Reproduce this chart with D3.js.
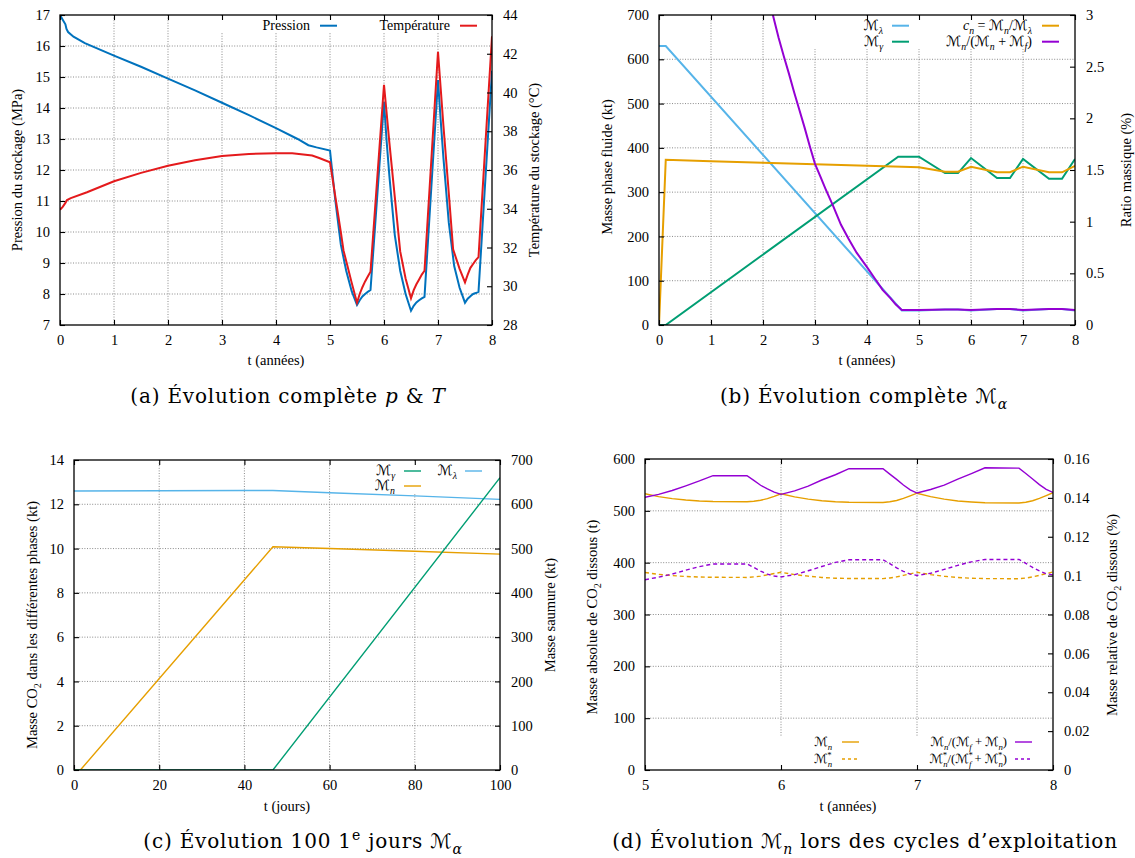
<!DOCTYPE html>
<html><head><meta charset="utf-8">
<script src="https://cdn.jsdelivr.net/npm/d3@7"></script>
<style>
body{margin:0;background:#fff;}
svg{display:block;}
</style></head>
<body>
<svg id="c" width="1135" height="858"></svg>
<script>
// ---------------- DATA ----------------
// Panel (a)
const yearTicks = [0,1,2,3,4,5,6,7,8];
const pressTicks = [7,8,9,10,11,12,13,14,15,16,17];
const tempTicks = [28,30,32,34,36,38,40,42,44];
const tPress = [0,0.05,0.1,0.12,0.15,0.25,0.46,1,1.5,2,2.5,3,3.5,4,4.4,4.6,4.75,5.0,5.05,5.1,5.2,5.3,5.4,5.5,5.55,5.6,5.65,5.7,5.75,6.0,6.05,6.1,6.2,6.3,6.4,6.5,6.55,6.6,6.65,6.7,6.75,7.0,7.05,7.1,7.2,7.3,7.4,7.5,7.55,7.6,7.65,7.7,7.75,8.0];
const pressure = [17.0,16.85,16.7,16.55,16.45,16.3,16.09,15.69,15.33,14.95,14.57,14.17,13.77,13.35,13.0,12.8,12.73,12.63,11.8,11.0,9.6,8.75,8.1,7.65,7.8,7.92,8.0,8.07,8.13,14.2,12.9,11.8,9.9,8.75,8.0,7.46,7.62,7.73,7.8,7.86,7.91,14.9,13.6,12.4,10.3,8.9,8.2,7.72,7.85,7.93,8.0,8.03,8.07,15.2];
const tTemp = [0,0.05,0.1,0.13,0.2,0.5,1,1.5,2,2.5,3,3.5,4,4.3,4.67,4.8,5.0,5.05,5.1,5.2,5.25,5.3,5.4,5.5,5.55,5.6,5.65,5.7,5.75,6.0,6.05,6.1,6.2,6.3,6.4,6.5,6.55,6.6,6.65,6.7,6.75,7.0,7.05,7.1,7.2,7.28,7.4,7.5,7.55,7.6,7.65,7.7,7.75,8.0];
const temperature = [33.95,34.1,34.3,34.45,34.55,34.85,35.42,35.85,36.22,36.5,36.72,36.83,36.86,36.86,36.75,36.62,36.4,35.5,34.6,32.8,31.85,31.3,30.2,29.15,29.6,29.95,30.25,30.5,30.75,40.4,38.9,37.4,34.6,31.8,30.4,29.38,29.8,30.1,30.35,30.6,30.8,42.1,40.2,38.3,34.8,31.9,30.9,30.2,30.6,30.95,31.15,31.35,31.5,42.9];

// Panel (b)
const fluidTicks = [0,100,200,300,400,500,600,700];
const ratioTicks = [0,0.5,1,1.5,2,2.5,3];
const tLambdaB = [0,0.13,4.67,5.0,5.5,5.75,6.0,6.5,6.75,7.0,7.5,7.75,8.0];
const massLambdaB = [630,630,33,33,35,35,33,36,36,33,36,36,33];
const tGammaB = [0,0.13,4.6,5.0,5.5,5.75,6.0,6.5,6.75,7.0,7.5,7.75,8.0];
const massGammaB = [0,0,380,380,343,343,377,332,332,375,330,330,375];
const tCnB = [0,0.13,1,2,3,4,4.67,5.0,5.5,5.75,6.0,6.5,6.75,7.0,7.5,7.75,8.0];
const cnB = [0,1.6,1.585,1.571,1.556,1.542,1.532,1.526,1.484,1.484,1.532,1.478,1.478,1.532,1.478,1.478,1.54];
const tRatioB = [2.19,2.3,2.4,2.5,2.6,2.7,2.8,2.9,3.0,3.1,3.2,3.35,3.5,3.65,3.8,4.0,4.15,4.3,4.45,4.55,4.67,5.0,5.5,5.75,6.0,6.5,6.75,7.0,7.5,7.75,8.0];
const ratioB = [3.0,2.78,2.6,2.43,2.25,2.08,1.91,1.73,1.56,1.44,1.32,1.15,0.97,0.83,0.7,0.56,0.45,0.34,0.26,0.2,0.145,0.145,0.15,0.15,0.145,0.155,0.155,0.145,0.155,0.155,0.145];

// Panel (c)
const dayTicks = [0,20,40,60,80,100];
const co2Ticks = [0,2,4,6,8,10,12,14];
const brineTicks = [0,100,200,300,400,500,600,700];
const tLambdaC = [0,20,40,46.7,60,80,100];
const brineC = [630,630.5,631,631,626,619,611];
const tNC = [0,1.5,46.7,60,80,100];
const mnC = [0,0,10.08,10.0,9.88,9.75];
const tGammaC = [0,46.7,100];
const mgC = [0,0,13.2];

// Panel (d)
const yearTicksD = [5,6,7,8];
const absTicks = [0,100,200,300,400,500,600];
const relTicks = [0,0.02,0.04,0.06,0.08,0.1,0.12,0.14,0.16];
const tD = [5.0,5.1,5.2,5.3,5.4,5.5,5.75,5.8,5.85,5.9,5.95,6.0,6.1,6.2,6.3,6.4,6.5,6.75,6.8,6.85,6.9,6.95,7.0,7.1,7.2,7.3,7.4,7.5,7.75,7.8,7.85,7.9,7.95,8.0];
const mnD = [533,527.5,523.5,520.8,519,518,517.5,518.5,520.5,523.5,528,533,527,522.5,519.5,517.5,516.5,516,517.5,520,524,529,534,527.5,522.5,519,517,515.5,515,516.5,519.5,524,529.5,535];
const ratioD = [0.1403,0.1418,0.1438,0.1462,0.1487,0.1514,0.1514,0.1490,0.1465,0.1446,0.1430,0.1418,0.1436,0.1460,0.1492,0.1519,0.155,0.155,0.1522,0.1495,0.1466,0.1441,0.1425,0.1443,0.1466,0.1496,0.1525,0.1555,0.1553,0.1525,0.1497,0.1468,0.1444,0.1428];
const mnStarD = [381,377.5,375,373.3,372.3,371.8,371.5,372.5,374,376.5,379,381.5,377,374,371.5,370,369.5,369.3,370.5,372.5,375.5,378.5,381.5,377,373.8,371.5,370,369.3,369,370.3,372.5,375.5,379,382];
const ratioStarD = [0.0979,0.0992,0.1008,0.1028,0.1046,0.1060,0.1060,0.1042,0.1023,0.1008,0.0998,0.0993,0.1005,0.1025,0.1047,0.1068,0.1082,0.1082,0.1062,0.1040,0.1022,0.1008,0.1001,0.1012,0.1032,0.1053,0.1071,0.1083,0.1083,0.1063,0.1042,0.1024,0.1010,0.1004];

// ---------------- DRAWING ----------------
const FONT = "'Liberation Serif','Times New Roman',serif";
const CFONT = "'DejaVu Serif',serif";
const MFONT = "'DejaVu Serif','DejaVu Sans',serif";
const svg = d3.select('#c');
const C = {blue:'#0072bd', red:'#e41a1c', lblue:'#56b4e9', green:'#009e73', orange:'#e69f00', purple:'#9400d3'};

function rich(text, segs, fs){
  let cur = 0;
  segs.forEach(s=>{
    const target = s.sub ? fs*0.28 : (s.sup ? -fs*0.38 : 0);
    const ts = text.append('tspan').text(s.t);
    if (target !== cur) ts.attr('dy', target - cur);
    cur = target;
    if (s.sub || s.sup) ts.attr('font-size', fs*0.7);
    if (s.it) ts.attr('font-style','italic');
    if (s.m) ts.attr('font-family', MFONT);
    if (s.dx) ts.attr('dx', s.dx);
  });
  return text;
}
const P = s => typeof s === 'string' ? {t:s} : s;
function txt(g, x, y, segs, opt={}){
  const fs = opt.fs || 13;
  const t = g.append('text').attr('x',x).attr('y',y)
    .attr('font-family', opt.font || FONT).attr('font-size', fs)
    .attr('text-anchor', opt.anchor || 'middle').attr('fill','#000');
  if (opt.ls) t.attr('letter-spacing', opt.ls);
  if (opt.rot) t.attr('transform', `rotate(${opt.rot},${x},${y})`);
  rich(t, segs.map(P), fs);
  return t;
}

function panel(cfg){
  const g = svg.append('g');
  const {L,R,T,B} = cfg;
  const x = d3.scaleLinear().domain(cfg.xDom).range([L,R]);
  const y = d3.scaleLinear().domain(cfg.yDom).range([B,T]);
  const y2 = d3.scaleLinear().domain(cfg.y2Dom).range([B,T]);
  const id = 'clip'+cfg.name;
  svg.append('clipPath').attr('id',id).append('rect').attr('x',L).attr('y',T).attr('width',R-L).attr('height',B-T);
  const grid = g.append('g').attr('stroke','#8a8a8a').attr('stroke-width',1).attr('stroke-dasharray','1,1.6');
  cfg.xTicks.filter(v=>v!==cfg.xDom[0] && v!==cfg.xDom[1]).forEach(v=>{
    grid.append('line').attr('x1',x(v)).attr('x2',x(v)).attr('y1',T).attr('y2',B);
  });
  cfg.yTicks.filter(v=>v!==cfg.yDom[0] && v!==cfg.yDom[1]).forEach(v=>{
    grid.append('line').attr('x1',L).attr('x2',R).attr('y1',y(v)).attr('y2',y(v));
  });
  if (cfg.keyBox) {
    const k = cfg.keyBox;
    g.append('rect').attr('x',k[0]).attr('y',k[1]).attr('width',k[2]-k[0]).attr('height',k[3]-k[1]).attr('fill','#fff');
  }
  const lines = g.append('g').attr('clip-path',`url(#${id})`);
  cfg.series.forEach(s=>{
    const sc = s.axis === 2 ? y2 : y;
    const pts = s.t.map((tv,i)=>[tv, s.v[i]]);
    lines.append('path').datum(pts)
      .attr('d', d3.line().x(d=>x(d[0])).y(d=>sc(d[1])))
      .attr('fill','none').attr('stroke',s.color).attr('stroke-width',cfg.lw)
      .attr('stroke-dasharray', s.dash || null).attr('stroke-linejoin','miter');
  });
  const lfs = cfg.lfs || 14;
  cfg.legend.forEach(e=>{
    txt(g, e.tx, e.y + lfs*0.32, e.label, {anchor:'end', fs:lfs});
    g.append('line').attr('x1',e.sx).attr('x2',e.sx+17).attr('y1',e.y).attr('y2',e.y)
      .attr('stroke',e.color).attr('stroke-width',cfg.lw).attr('stroke-dasharray', e.dash || null);
  });
  g.append('rect').attr('x',L).attr('y',T).attr('width',R-L).attr('height',B-T)
    .attr('fill','none').attr('stroke','#000').attr('stroke-width',1.3);
  const style = sel => {
    sel.select('.domain').remove();
    sel.attr('font-family',FONT).attr('font-size',14.5);
    sel.selectAll('line').attr('stroke','#000').attr('stroke-width',1.1);
    sel.selectAll('text').attr('fill','#000');
  };
  const fmt = cfg.fmt || (d=>d);
  g.append('g').attr('transform',`translate(0,${B})`).call(d3.axisBottom(x).tickValues(cfg.xTicks).tickSize(-5).tickPadding(10).tickFormat(fmt)).call(style);
  g.append('g').attr('transform',`translate(0,${T})`).call(d3.axisTop(x).tickValues(cfg.xTicks).tickSize(-5).tickFormat('')).call(style);
  g.append('g').attr('transform',`translate(${L},0)`).call(d3.axisLeft(y).tickValues(cfg.yTicks).tickSize(-5).tickPadding(10).tickFormat(d=>d)).call(style);
  g.append('g').attr('transform',`translate(${R},0)`).call(d3.axisRight(y2).tickValues(cfg.y2Ticks).tickSize(-5).tickPadding(11).tickFormat(d=>d)).call(style);
  txt(g, cfg.xt[0], cfg.xt[1], cfg.xTitle, {fs:14.5});
  txt(g, cfg.yt[0], cfg.yt[1], cfg.yTitle, {fs:14.5, rot:-90});
  txt(g, cfg.y2t[0], cfg.y2t[1], cfg.y2Title, {fs:14.5, rot:-90});
  txt(svg, cfg.cap[0], cfg.cap[1], cfg.caption, {fs:20, font:CFONT, ls:0.8});
}

const M = {t:'ℳ', m:true};
const sub = s => ({t:s, sub:true, it:true});
const star = {t:'*', sup:true};
const subS = s => ({t:s, sub:true, it:true, dx:-4});

// (a)
panel({name:'a', L:60, R:492, T:15, B:325, lw:2,
  xDom:[0,8], xTicks:yearTicks, yDom:[7,17], yTicks:pressTicks, y2Dom:[28,44], y2Ticks:tempTicks,
  keyBox:[215,16,491,33],
  series:[
    {t:tPress, v:pressure, color:C.blue, axis:1},
    {t:tTemp, v:temperature, color:C.red, axis:2}
  ],
  legend:[
    {tx:310, sx:320, y:25.7, label:['Pression'], color:C.blue},
    {tx:450, sx:460, y:25.7, label:['Température'], color:C.red}
  ],
  xt:[276,365], xTitle:['t (années)'],
  yt:[22,170], yTitle:['Pression du stockage (MPa)'],
  y2t:[539,170], y2Title:['Température du stockage (°C)'],
  cap:[288,403], caption:['(a) Évolution complète ', {t:'p',it:true}, ' & ', {t:'T',it:true}]
});

// (b)
panel({name:'b', L:659, R:1075, T:15, B:325, lw:2,
  xDom:[0,8], xTicks:yearTicks, yDom:[0,700], yTicks:fluidTicks, y2Dom:[0,3], y2Ticks:ratioTicks,
  keyBox:[800,16,1074,49],
  series:[
    {t:tLambdaB, v:massLambdaB, color:C.lblue, axis:1},
    {t:tGammaB, v:massGammaB, color:C.green, axis:1},
    {t:tCnB, v:cnB, color:C.orange, axis:2},
    {t:tRatioB, v:ratioB, color:C.purple, axis:2}
  ],
  legend:[
    {tx:883, sx:892, y:25.7, label:[M, sub('λ')], color:C.lblue},
    {tx:1032, sx:1042, y:25.7, label:[{t:'c',it:true}, sub('n'), ' = ', M, sub('n'), '/', M, sub('λ')], color:C.orange},
    {tx:883, sx:892, y:41.7, label:[M, sub('γ')], color:C.green},
    {tx:1032, sx:1042, y:41.7, label:[M, sub('n'), '/(', M, sub('n'), ' + ', M, sub('f'), ')'], color:C.purple}
  ],
  xt:[867,365], xTitle:['t (années)'],
  yt:[612,167], yTitle:['Masse phase fluide (kt)'],
  y2t:[1131,170], y2Title:['Ratio massique (%)'],
  cap:[864,403], caption:['(b) Évolution complète ', M, sub('α')]
});

// (c)
panel({name:'c', L:74, R:500, T:460, B:770, lw:1.4,
  xDom:[0,100], xTicks:dayTicks, yDom:[0,14], yTicks:co2Ticks, y2Dom:[0,700], y2Ticks:brineTicks,
  keyBox:[355,461,492,494],
  series:[
    {t:tLambdaC, v:brineC, color:C.lblue, axis:2},
    {t:tNC, v:mnC, color:C.orange, axis:1},
    {t:tGammaC, v:mgC, color:C.green, axis:1}
  ],
  legend:[
    {tx:395, sx:404, y:471, label:[M, sub('γ')], color:C.green},
    {tx:457, sx:465, y:471, label:[M, sub('λ')], color:C.lblue},
    {tx:395, sx:404, y:486, label:[M, sub('n')], color:C.orange}
  ],
  xt:[287,811], xTitle:['t (jours)'],
  yt:[37,625], yTitle:['Masse CO', {t:'2',sub:true}, ' dans les différentes phases (kt)'],
  y2t:[555,615], y2Title:['Masse saumure (kt)'],
  cap:[303,848], caption:['(c) Évolution 100 1', {t:'e',sup:true}, ' jours ', M, sub('α')]
});

// (d)
panel({name:'d', L:645, R:1053, T:459, B:770, lw:1.4, lfs:12.5,
  xDom:[5,8], xTicks:yearTicksD, yDom:[0,600], yTicks:absTicks, y2Dom:[0,0.16], y2Ticks:relTicks,
  keyBox:[760,737,1052,769],
  series:[
    {t:tD, v:mnD, color:C.orange, axis:1},
    {t:tD, v:mnStarD, color:C.orange, axis:1, dash:'4,3'},
    {t:tD, v:ratioD, color:C.purple, axis:2},
    {t:tD, v:ratioStarD, color:C.purple, axis:2, dash:'4,3'}
  ],
  legend:[
    {tx:832, sx:842, y:742, label:[M, sub('n')], color:C.orange},
    {tx:1007, sx:1015, y:742, label:[M, sub('n'), '/(', M, sub('f'), ' + ', M, sub('n'), ')'], color:C.purple},
    {tx:832, sx:842, y:759, label:[M, star, subS('n')], color:C.orange, dash:'3,3'},
    {tx:1007, sx:1015, y:759, label:[M, star, subS('n'), '/(', M, star, subS('f'), ' + ', M, star, subS('n'), ')'], color:C.purple, dash:'3,3'}
  ],
  xt:[848,811], xTitle:['t (années)'],
  yt:[597,617], yTitle:['Masse absolue de CO', {t:'2',sub:true}, ' dissous (t)'],
  y2t:[1117,615], y2Title:['Masse relative de CO', {t:'2',sub:true}, ' dissous (%)'],
  cap:[865,848], caption:['(d) Évolution ', M, sub('n'), ' lors des cycles d’exploitation']
});
</script>
</body></html>
